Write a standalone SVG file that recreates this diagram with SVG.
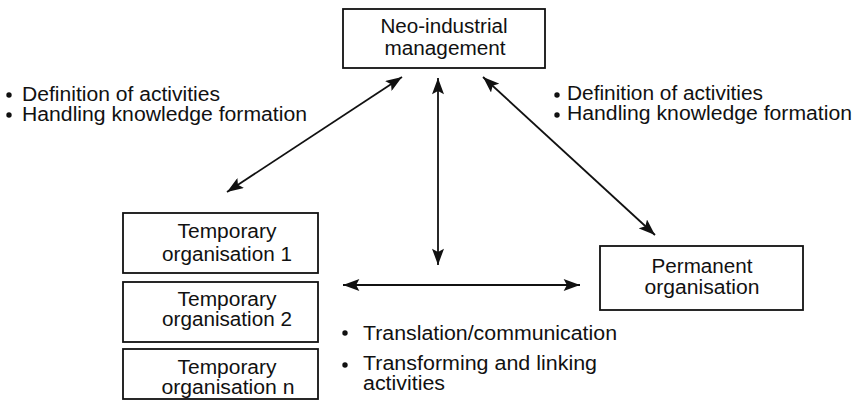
<svg xmlns="http://www.w3.org/2000/svg" width="859" height="409" viewBox="0 0 859 409">
<style>
  .box { fill: #fff; stroke: #111; stroke-width: 1.8; }
  .t { font-family: "Liberation Sans", Arial, Helvetica, sans-serif; font-size: 19.5px; fill: #111; }
  .c { text-anchor: middle; }
  .conn { stroke: #111; stroke-width: 1.8; fill: none; marker-start: url(#ah); marker-end: url(#ah); }
  .dot { fill: #111; }
</style>
<defs>
  <marker id="ah" markerUnits="userSpaceOnUse" markerWidth="18" markerHeight="12" refX="15" refY="5.5" orient="auto-start-reverse" viewBox="0 0 16 11">
    <path d="M0,0 L15,5.5 L0,11 L3,5.5 Z" fill="#111"/>
  </marker>
</defs>
<rect width="859" height="409" fill="#fff"/>

<g id="connectors">
  <line class="conn" x1="402" y1="77" x2="227" y2="192"/>
  <line class="conn" x1="483" y1="77" x2="655" y2="235"/>
  <line class="conn" x1="438" y1="78" x2="438" y2="265"/>
  <line class="conn" x1="343" y1="285" x2="580" y2="285"/>
</g>

<g id="neo">
  <rect class="box" x="343" y="9" width="202" height="59"/>
  <text class="t c" x="444" y="33" textLength="127" lengthAdjust="spacingAndGlyphs">Neo-industrial</text>
  <text class="t c" x="445" y="55" textLength="121" lengthAdjust="spacingAndGlyphs">management</text>
</g>

<g id="temp1">
  <rect class="box" x="123" y="213" width="195" height="60"/>
  <text class="t c" x="227" y="238" textLength="99" lengthAdjust="spacingAndGlyphs">Temporary</text>
  <text class="t c" x="227" y="261" textLength="130" lengthAdjust="spacingAndGlyphs">organisation 1</text>
</g>

<g id="temp2">
  <rect class="box" x="123" y="282" width="195" height="60"/>
  <text class="t c" x="227" y="306" textLength="99" lengthAdjust="spacingAndGlyphs">Temporary</text>
  <text class="t c" x="227" y="326" textLength="130" lengthAdjust="spacingAndGlyphs">organisation 2</text>
</g>

<g id="tempn">
  <rect class="box" x="123" y="349" width="195" height="50"/>
  <text class="t c" x="227" y="374" textLength="99" lengthAdjust="spacingAndGlyphs">Temporary</text>
  <text class="t c" x="228" y="394" textLength="133" lengthAdjust="spacingAndGlyphs">organisation n</text>
</g>

<g id="permanent">
  <rect class="box" x="600" y="246" width="203" height="64"/>
  <text class="t c" x="702" y="273" textLength="101" lengthAdjust="spacingAndGlyphs">Permanent</text>
  <text class="t c" x="702" y="294" textLength="115" lengthAdjust="spacingAndGlyphs">organisation</text>
</g>

<g id="left-notes">
  <circle class="dot" cx="9" cy="95" r="2.7"/>
  <text class="t" x="22" y="101" textLength="198" lengthAdjust="spacingAndGlyphs">Definition of activities</text>
  <circle class="dot" cx="9" cy="115" r="2.7"/>
  <text class="t" x="22" y="121" textLength="285" lengthAdjust="spacingAndGlyphs">Handling knowledge formation</text>
</g>

<g id="right-notes">
  <circle class="dot" cx="557" cy="95" r="2.7"/>
  <text class="t" x="567" y="100" textLength="196" lengthAdjust="spacingAndGlyphs">Definition of activities</text>
  <circle class="dot" cx="557" cy="115" r="2.7"/>
  <text class="t" x="567" y="120" textLength="285" lengthAdjust="spacingAndGlyphs">Handling knowledge formation</text>
</g>

<g id="bottom-notes">
  <circle class="dot" cx="345" cy="333" r="2.7"/>
  <text class="t" x="363" y="340" textLength="254" lengthAdjust="spacingAndGlyphs">Translation/communication</text>
  <circle class="dot" cx="345" cy="365" r="2.7"/>
  <text class="t" x="363" y="370" textLength="234" lengthAdjust="spacingAndGlyphs">Transforming and linking</text>
  <text class="t" x="363" y="390" textLength="82" lengthAdjust="spacingAndGlyphs">activities</text>
</g>
</svg>
